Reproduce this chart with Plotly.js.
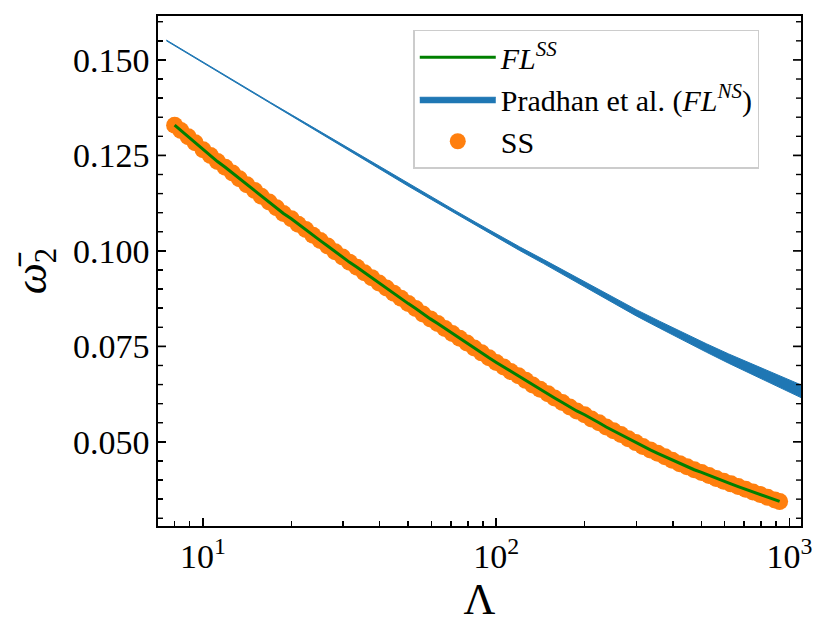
<!DOCTYPE html>
<html>
<head>
<meta charset="utf-8">
<script src="https://cdn.plot.ly/plotly-3.0.1.min.js"></script>
<style>
  html, body { margin: 0; padding: 0; background: #fff; }
  #chart { width: 830px; height: 638px; }
</style>
</head>
<body>
<div id="chart"></div>
<script>
// SS points and the FL^SS fit (same curve)
const lambdaSS = [8.0, 8.4, 8.9, 9.4, 10.0, 10.6, 11.2, 11.9, 12.6, 13.3, 14.1, 15.0, 15.8, 16.8, 17.8,
  18.8, 20.0, 21.1, 22.4, 23.7, 25.1, 26.6, 28.2, 29.9, 31.6, 33.5, 35.5, 37.6, 39.8, 42.2, 44.7, 47.3, 50.1,
  53.1, 56.2, 59.6, 63.1, 66.8, 70.8, 75.0, 79.4, 84.1, 89.1, 94.4, 100, 106, 112, 119, 126, 133, 141, 150,
  158, 168, 178, 188, 200, 211, 224, 237, 251, 266, 282, 299, 316, 335, 355, 376, 398, 422, 447, 473, 501,
  531, 562, 596, 631, 668, 708, 750, 794, 841, 891, 925];
const omegaSS = [0.1329, 0.1315, 0.1299, 0.1283,
  0.1265, 0.1250, 0.1234, 0.1219, 0.1204, 0.1189, 0.1173, 0.1158, 0.1143, 0.1128, 0.1113,
  0.1098, 0.1084, 0.1070, 0.1056, 0.1041, 0.1027, 0.1013, 0.0998, 0.0984, 0.0970,
  0.0957, 0.0943, 0.0930, 0.0916, 0.0903, 0.0889, 0.0876, 0.0862, 0.0849, 0.0835,
  0.0822, 0.0810, 0.0797, 0.0784, 0.0771, 0.0759, 0.0746, 0.0733, 0.0720, 0.0708,
  0.0696, 0.0684, 0.0673, 0.0661, 0.0649, 0.0638, 0.0626, 0.0615, 0.0603, 0.0591,
  0.0581, 0.0571, 0.0560, 0.0550, 0.0539, 0.0529, 0.0519, 0.0508, 0.0498, 0.0488,
  0.0479, 0.0470, 0.0461, 0.0452, 0.0443,
  0.0435, 0.0427, 0.0420, 0.0412, 0.0404,
  0.0397, 0.0390, 0.0383, 0.0376, 0.0369, 0.0362, 0.0355, 0.0348, 0.0344];

// Pradhan et al. band: centre and half width
const lambdaNS = [7.5, 8, 9, 10, 12, 14, 17, 20, 25, 30, 36, 43, 50, 60, 72, 85, 100, 120, 145, 175, 210, 250, 300,
  360, 430, 520, 620, 740, 880, 1050, 1150];
const omegaNS = [0.1551, 0.1538, 0.1514, 0.1493, 0.1457, 0.1426, 0.1387, 0.1355, 0.1311, 0.1274, 0.1238, 0.1203,
  0.1173, 0.1138, 0.1103, 0.1071, 0.1040, 0.1006, 0.0972, 0.0937, 0.0903, 0.0871, 0.0838, 0.0807, 0.0777, 0.0746,
  0.0718, 0.0691, 0.0665, 0.0638, 0.0625];
const spreadNS = [0.0001, 0.0001, 0.00011, 0.00012, 0.00013, 0.00014, 0.00016, 0.00018, 0.0002, 0.00022, 0.00024,
  0.00027, 0.0003, 0.00033, 0.00036, 0.0004, 0.00043, 0.00048, 0.00053, 0.00059, 0.00066, 0.00074, 0.00082, 0.0009,
  0.001, 0.0011, 0.00122, 0.00135, 0.00148, 0.00162, 0.0017];

const xTickVals = [10, 100, 1000];
const xTickText = ["10<sup>1</sup>", "10<sup>2</sup>", "10<sup>3</sup>"];
const xMinorVals = [8, 9, 20, 30, 40, 50, 60, 70, 80, 90, 200, 300, 400, 500, 600, 700, 800, 900];
const yTickVals = [0.050, 0.075, 0.100, 0.125, 0.150];
const yMinorVals = [0.030, 0.035, 0.040, 0.045, 0.055, 0.060, 0.065, 0.070, 0.080, 0.085, 0.090, 0.095,
  0.105, 0.110, 0.115, 0.120, 0.130, 0.135, 0.140, 0.145, 0.155, 0.160];

const blue = "#1f77b4";
const serif = "Liberation Serif, DejaVu Serif, serif";
const xRange = [Math.log10(7.02), Math.log10(1094)];
const yRange = [0.02797, 0.1615];

const lowerNS = omegaNS.map((v, i) => v - spreadNS[i]);
const upperNS = omegaNS.map((v, i) => v + spreadNS[i]);

const traces = [
  {
    x: lambdaSS, y: omegaSS, type: "scatter", mode: "markers", name: "SS",
    marker: { color: "#ff7f0e", size: 17 }, legendrank: 3,
  },
  {
    x: lambdaSS, y: omegaSS, type: "scatter", mode: "lines", name: "<i>FL</i><sup><i>SS</i></sup>",
    line: { color: "#008000", width: 3 }, legendrank: 1,
  },
  {
    x: lambdaNS, y: lowerNS, type: "scatter", mode: "lines", showlegend: false,
    line: { color: blue, width: 1 }, hoverinfo: "skip",
  },
  {
    x: lambdaNS, y: upperNS, type: "scatter", mode: "lines", fill: "tonexty",
    fillcolor: blue, name: "Pradhan et al. (<i>FL</i><sup><i>NS</i></sup>)",
    line: { color: blue, width: 1 }, legendrank: 2,
  },
];

// inward ticks on all four sides, drawn as pixel-sized shapes
const shapes = [];
function xTicks(vals, len, w) {
  vals.forEach(v => {
    [[0, len], [1, -len]].forEach(([anchor, l]) => {
      shapes.push({ type: "line", xref: "x", yref: "paper", x0: Math.log10(v), x1: Math.log10(v),
        ysizemode: "pixel", yanchor: anchor, y0: 0, y1: l, line: { color: "#000", width: w } });
    });
  });
}
function yTicks(vals, len, w) {
  vals.forEach(v => {
    [[0, len], [1, -len]].forEach(([anchor, l]) => {
      shapes.push({ type: "line", xref: "paper", yref: "y", y0: v, y1: v,
        xsizemode: "pixel", xanchor: anchor, x0: 0, x1: l, line: { color: "#000", width: w } });
    });
  });
}
xTicks(xTickVals, 8, 1.7);
xTicks(xMinorVals, 5, 1.4);
yTicks(yTickVals, 8, 1.7);
yTicks(yMinorVals, 5, 1.4);

const axisCommon = {
  showgrid: false,
  zeroline: false,
  showline: true,
  linecolor: "#000",
  linewidth: 1.6,
  mirror: true,
  ticks: "inside",
  ticklen: 8,
  tickwidth: 1.7,
  tickcolor: "#000",
  tickfont: { family: serif, size: 34, color: "#000" },
};

const layout = {
  width: 830,
  height: 638,
  paper_bgcolor: "#fff",
  plot_bgcolor: "#fff",
  margin: { l: 158, r: 29, t: 16, b: 112 },
  showlegend: true,
  legend: {
    x: 0.397, y: 0.973, xanchor: "left", yanchor: "top",
    traceorder: "normal",
    bgcolor: "rgba(255,255,255,0.8)",
    bordercolor: "#cccccc",
    borderwidth: 1.5,
    font: { family: serif, size: 30, color: "#000" },
    itemwidth: 76,
  },
  shapes: shapes,
  xaxis: Object.assign({}, axisCommon, {
    type: "log",
    range: xRange,
    tickmode: "array",
    tickvals: xTickVals,
    ticktext: xTickText,
    minor: { tickmode: "array", tickvals: xMinorVals, ticks: "inside", ticklen: 5, tickwidth: 1.4, tickcolor: "#000" },
    title: { text: "Λ", font: { family: serif, size: 44, color: "#000" }, standoff: 6 },
  }),
  yaxis: Object.assign({}, axisCommon, {
    range: yRange,
    tickmode: "array",
    tickvals: yTickVals,
    tickformat: ".3f",
    minor: { tickmode: "array", tickvals: yMinorVals, ticks: "inside", ticklen: 5, tickwidth: 1.4, tickcolor: "#000" },
    title: { text: "<i>ω̄</i><sub>2</sub>", font: { family: serif, size: 44, color: "#000" }, standoff: 12 },
  }),
};

Plotly.newPlot("chart", traces, layout, { displayModeBar: false, staticPlot: true });
</script>
</body>
</html>
